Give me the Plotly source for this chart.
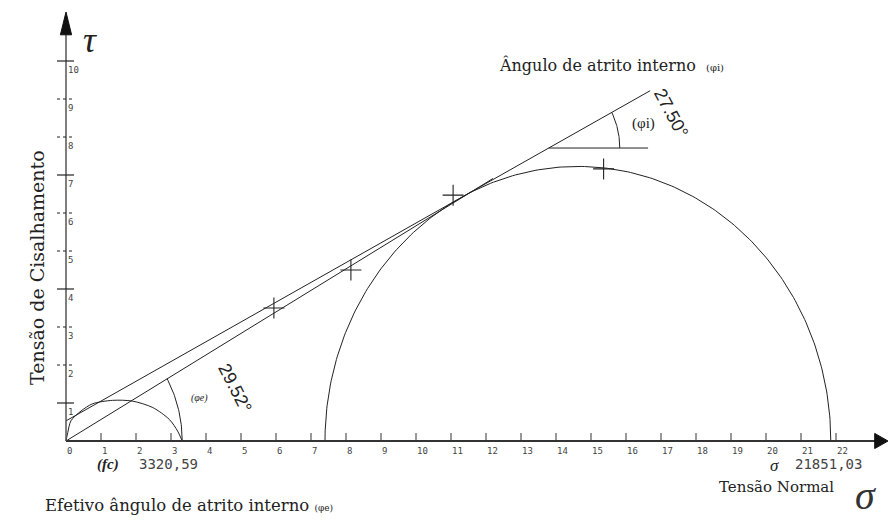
import numpy as np
import plotly.graph_objects as go

# ---- values (axes in units of 1000) ----
sigma_ticks = list(range(0, 23))          # Tensão Normal ticks
tau_ticks = list(range(1, 11))            # Tensão de Cisalhamento ticks
tau_solid = [1, 4, 7, 10]                 # ticks drawn solid, others dotted

FC = 3320.59            # resistência à compressão uniaxial
SIGMA_1 = 21851.03      # tensão principal maior
SIGMA_3 = 7400.0        # tensão principal menor
COHESION = 530.0        # intercepto da envoltória
PHI_I = 27.50           # ângulo de atrito interno
PHI_E = 29.52           # ângulo de atrito efetivo
ENVELOPE_END = 16690.0  # fim da envoltória (σ)
EFFECTIVE_END = 12200.0 # fim da reta efetiva (σ)
PHI_I_MARK_TAU = 7710.0 # altura da referência horizontal do ângulo φi
PHI_I_MARK_END = 16630.0
PHI_I_RADIUS = 2030.0

# pontos de ensaio
point_sigma = [5940, 8140, 11060, 15360]
point_tau = [3500, 4500, 6470, 7160]

# curva do ensaio uniaxial
uc_sigma = [0, 50, 140, 430, 760, 1330, 1900, 2480, 2950, 3190, FC]
uc_tau = [0, 220, 530, 790, 980, 1070, 1050, 880, 570, 260, 0]

K = 1000.0
W, H = 890, 521
X0, Y0 = 66.0, 441.0      # origin in pixels
SX, SY = 35.0, 38.0       # pixels per unit

INK = "#222222"
GREY = "#444444"
SERIF = "DejaVu Serif"


def P(x, y):
    """pixel -> paper coordinates (plot area fills the figure)"""
    return x / W, 1 - y / H


fig = go.Figure()

# ---- Mohr circle (upper half) ----
cen = (SIGMA_1 + SIGMA_3) / 2 / K
rad = (SIGMA_1 - SIGMA_3) / 2 / K
th = np.linspace(0, np.pi, 241)
fig.add_trace(go.Scatter(x=cen + rad * np.cos(th), y=rad * np.sin(th), mode="lines",
                         line=dict(color=INK, width=1), hoverinfo="skip"))

# ---- uniaxial curve ----
fig.add_trace(go.Scatter(x=np.array(uc_sigma) / K, y=np.array(uc_tau) / K, mode="lines",
                         line=dict(color=INK, width=1, shape="spline", smoothing=0.8),
                         hoverinfo="skip"))

# ---- envelope lines ----
ti = np.tan(np.radians(PHI_I))
te = np.tan(np.radians(PHI_E))
env_x = np.array([0, ENVELOPE_END]) / K
fig.add_trace(go.Scatter(x=env_x, y=COHESION / K + ti * env_x, mode="lines",
                         line=dict(color=INK, width=1), hoverinfo="skip"))
eff_x = np.array([0, EFFECTIVE_END]) / K
fig.add_trace(go.Scatter(x=eff_x, y=te * eff_x, mode="lines",
                         line=dict(color=INK, width=1), hoverinfo="skip"))

# ---- angle φe arc (about the origin, radius fc) ----
a = np.linspace(0, np.radians(PHI_E), 40)
fig.add_trace(go.Scatter(x=FC / K * np.cos(a), y=FC / K * np.sin(a), mode="lines",
                         line=dict(color=INK, width=1), hoverinfo="skip"))

# ---- angle φi: horizontal reference and arc ----
vx = (PHI_I_MARK_TAU - COHESION) / K / ti
vy = PHI_I_MARK_TAU / K
fig.add_trace(go.Scatter(x=[vx, PHI_I_MARK_END / K], y=[vy, vy], mode="lines",
                         line=dict(color=INK, width=1), hoverinfo="skip"))
b = np.linspace(0, np.radians(PHI_I), 40)
fig.add_trace(go.Scatter(x=vx + PHI_I_RADIUS / K * np.cos(b), y=vy + PHI_I_RADIUS / K * np.sin(b),
                         mode="lines", line=dict(color=INK, width=1), hoverinfo="skip"))

# ---- test points ----
fig.add_trace(go.Scatter(x=np.array(point_sigma) / K, y=np.array(point_tau) / K, mode="markers",
                         marker=dict(symbol="cross-thin", size=15, line=dict(color=INK, width=1.1)),
                         hoverinfo="skip"))

# ---- axes ----
x_end = (W - X0 - 2) / SX
y_top = (Y0 - 12) / SY
shapes = [
    dict(type="line", x0=0, y0=0, x1=x_end - 0.3, y1=0, line=dict(color="#333", width=2)),
    dict(type="line", x0=0, y0=0, x1=0, y1=y_top - 0.4, line=dict(color="#555", width=1.5)),
    dict(type="path", path=f"M {x_end-0.38},{-0.2} L {x_end},0 L {x_end-0.38},{0.2} Z",
         fillcolor="#111", line=dict(color="#111", width=1)),
    dict(type="path", path=f"M {-0.16},{y_top-0.6} L 0,{y_top} L {0.16},{y_top-0.6} Z",
         fillcolor="#111", line=dict(color="#111", width=1)),
]
for k in sigma_ticks[1:]:
    shapes.append(dict(type="line", x0=k, y0=-1 / SY, x1=k, y1=8 / SY,
                       line=dict(color="#333", width=1)))
for k in tau_ticks:
    shapes.append(dict(type="line", x0=-9 / SX, y0=k, x1=8 / SX, y1=k,
                       line=dict(color="#222", width=1.2 if k in tau_solid else 1,
                                 dash="solid" if k in tau_solid else "dot")))

ann = []
tick_font = dict(family="DejaVu Sans Mono", size=9, color="#444")
for k in sigma_ticks:
    ann.append(dict(x=k, y=0, xref="x", yref="y", text=str(k), showarrow=False,
                    xanchor="left", yanchor="top", xshift=-1, yshift=-3, font=tick_font))
for k in tau_ticks:
    ann.append(dict(x=0, y=k, xref="x", yref="y", text=str(k), showarrow=False,
                    xanchor="left", yanchor="top", xshift=0, yshift=-2, font=tick_font))


def text(x, y, s, size, family=SERIF, color=INK, angle=0, xa="center", ya="middle"):
    px, py = P(x, y)
    ann.append(dict(x=px, y=py, xref="paper", yref="paper", text=s, showarrow=False,
                    textangle=angle, xanchor=xa, yanchor=ya,
                    font=dict(family=family, size=size, color=color)))


text(90, 40, "<i>τ</i>", 36, family="Liberation Serif")
text(37, 268, "Tensão de Cisalhamento", 19, angle=-90)
text(726, 65, "Ângulo de atrito interno  <span style='font-size:10px'>(φi)</span>", 16, xa="right")
text(671, 113, "27.50°", 18, family="Liberation Sans", angle=62)
text(643, 123, "(φi)", 15, family="Liberation Serif")
text(235, 388, "29.52°", 18, family="Liberation Sans", angle=63)
text(199, 398, "<i>(φe)</i>", 10, family="Liberation Serif")
text(95, 464, "<b><i>(fc)</i></b>", 15, family="Liberation Serif", xa="left")
text(137, 464, f"{FC:.2f}".replace(".", ","), 14, family="DejaVu Sans Mono", color=GREY, xa="left")
text(774, 465, "<i>σ</i>", 17, family="Liberation Serif")
text(793, 464, f"{SIGMA_1:.2f}".replace(".", ","), 14, family="DejaVu Sans Mono", color=GREY, xa="left")
text(43, 505, "Efetivo ângulo de atrito interno <span style='font-size:9px'>(φe)</span>", 16.5, xa="left")
text(836, 487, "Tensão Normal", 15, xa="right")
text(865, 495, "<i>σ</i>", 40, family="Liberation Serif", color="#333")

fig.update_layout(
    width=W, height=H, margin=dict(l=0, r=0, t=0, b=0, pad=0),
    paper_bgcolor="white", plot_bgcolor="white", showlegend=False,
    xaxis=dict(range=[-X0 / SX, (W - X0) / SX], visible=False, fixedrange=True),
    yaxis=dict(range=[-(H - Y0) / SY, Y0 / SY], visible=False, fixedrange=True),
    shapes=shapes, annotations=ann,
)

fig.write_html("out.html", config={"displayModeBar": False})
